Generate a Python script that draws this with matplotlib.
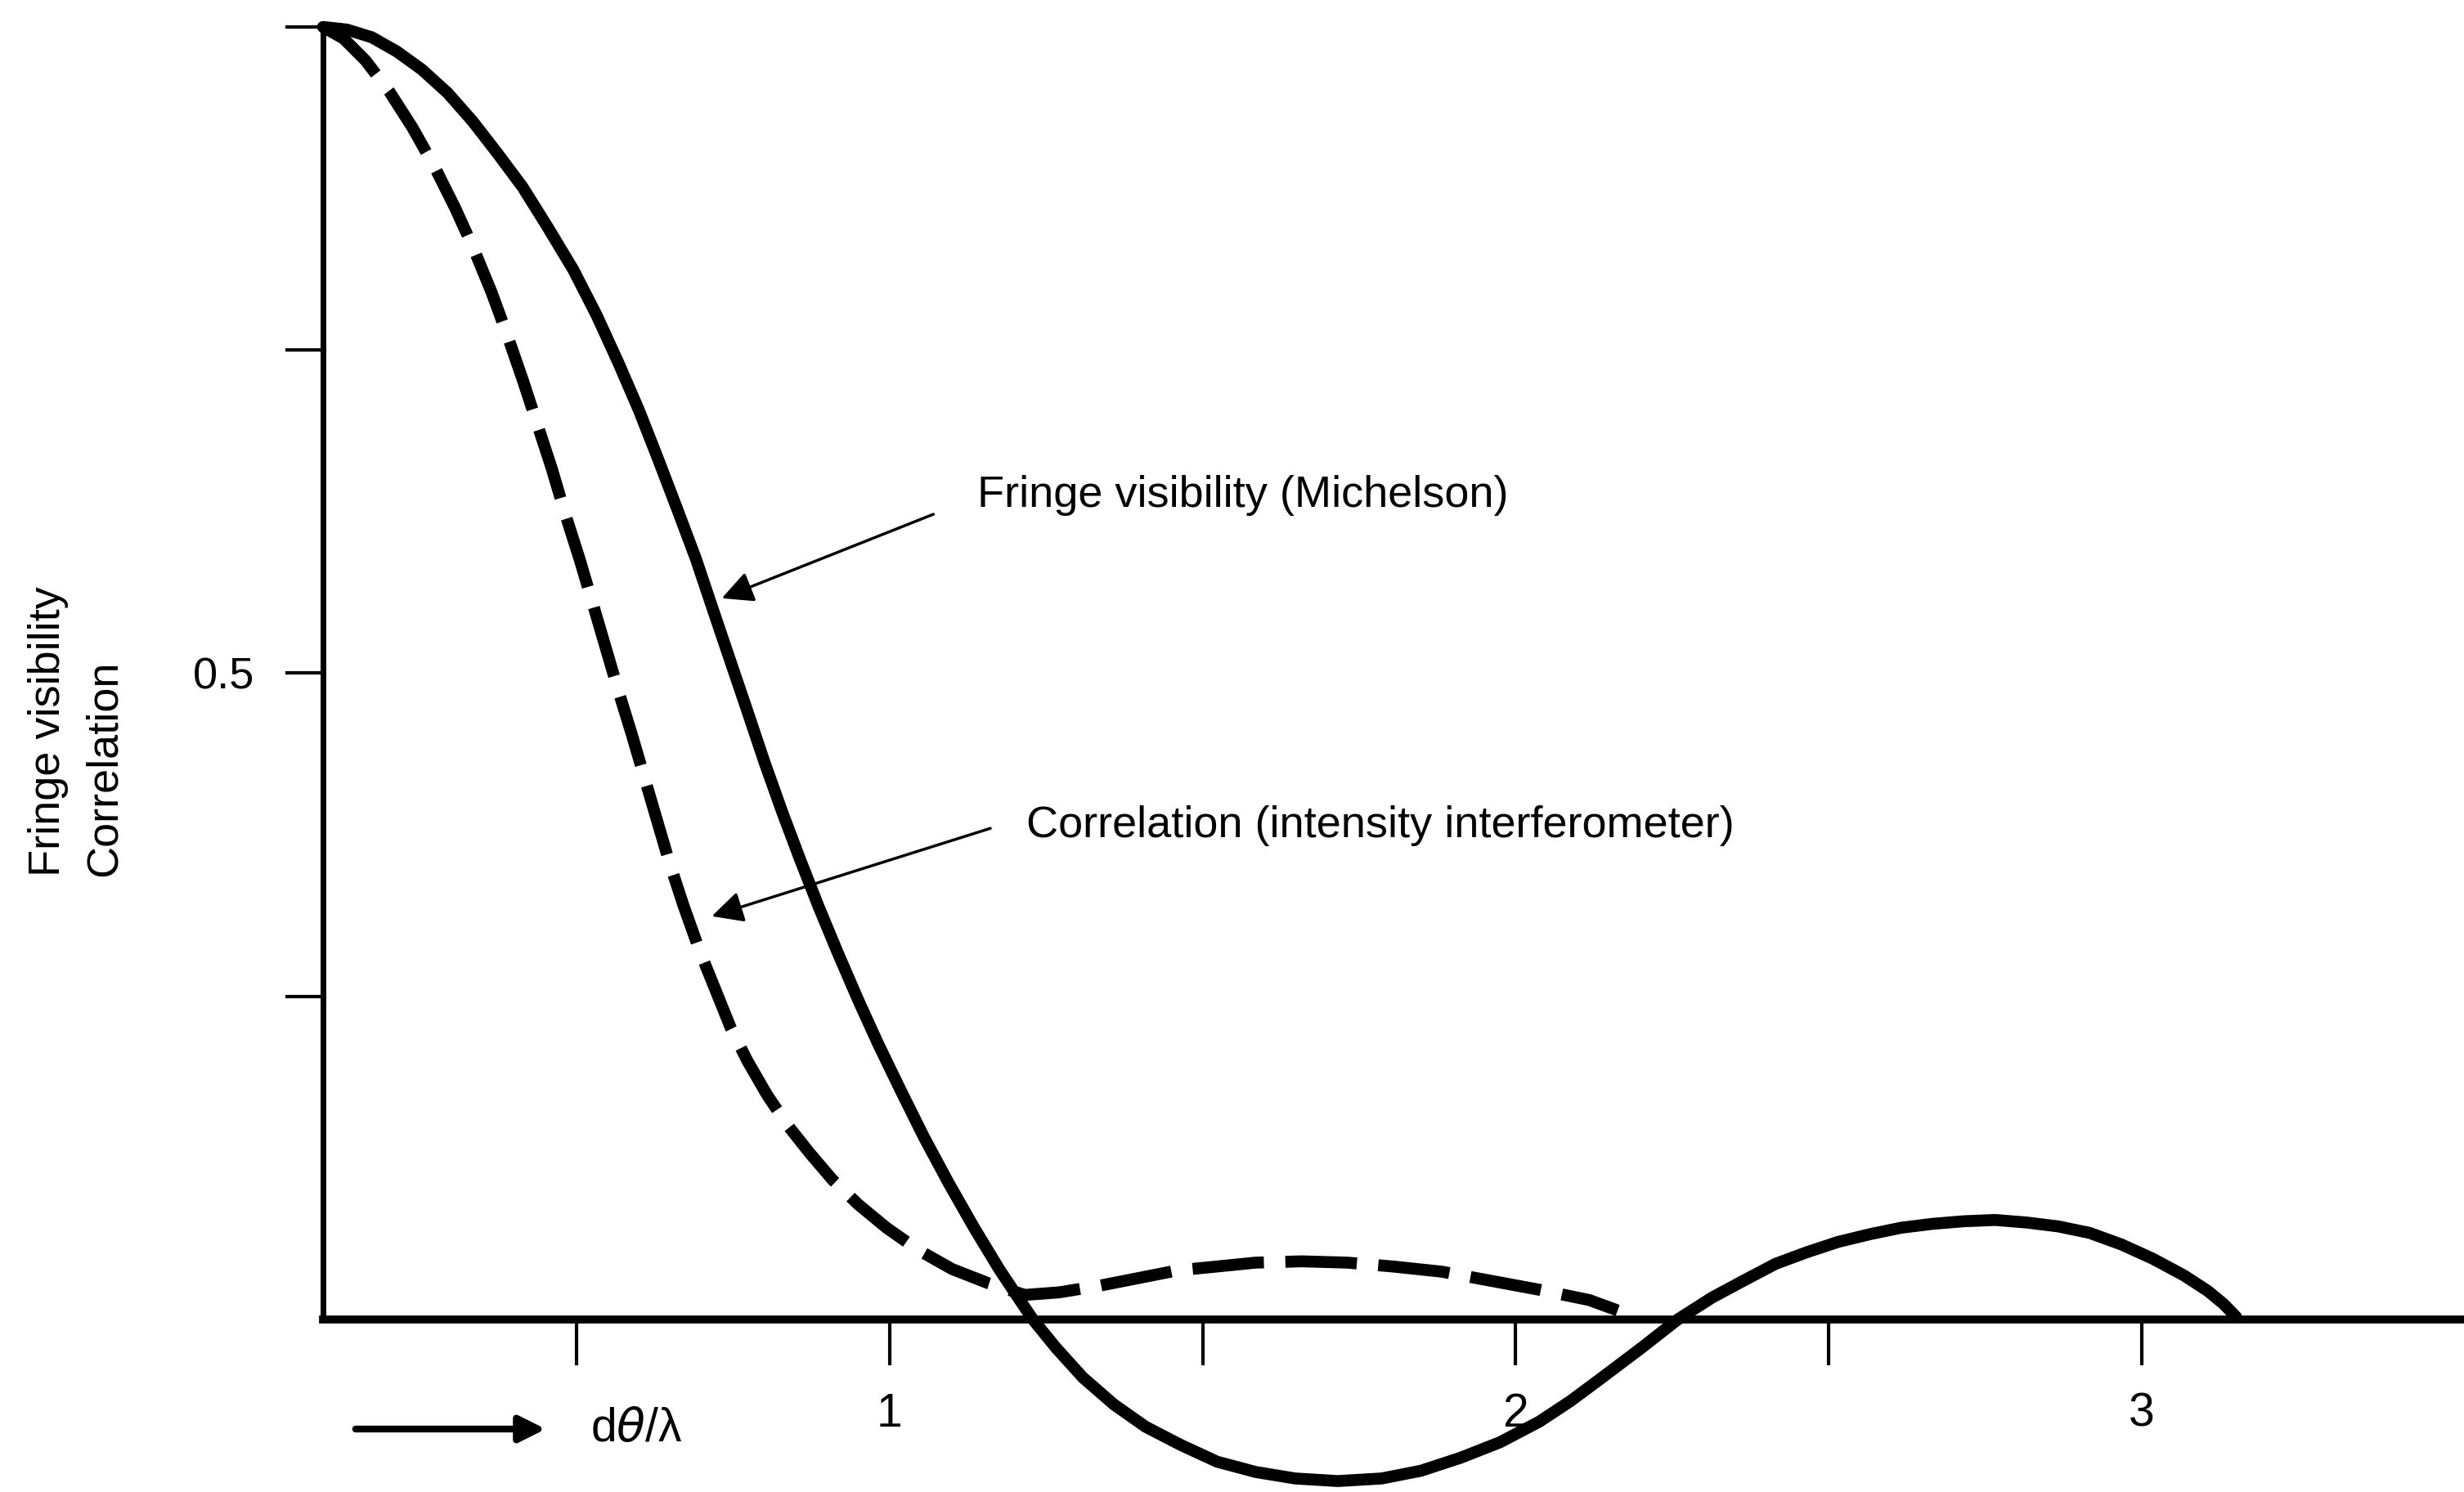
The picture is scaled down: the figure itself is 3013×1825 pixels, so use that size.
import matplotlib
matplotlib.use("Agg")
import matplotlib.pyplot as plt
from matplotlib.patches import FancyArrowPatch

plt.rcParams["font.family"] = ["Liberation Sans", "DejaVu Sans"]

# values (x in units of d*theta/lambda)
VIS_X = [0.095, 0.133, 0.173, 0.213, 0.253, 0.294, 0.334, 0.374, 0.414, 0.454,
         0.495, 0.532, 0.567, 0.600, 0.630, 0.660, 0.691, 0.718, 0.746, 0.774,
         0.801, 0.829, 0.857, 0.887, 0.917, 0.950, 0.982, 1.017, 1.055, 1.095,
         1.135, 1.175, 1.208, 1.229, 1.266, 1.309, 1.359, 1.409, 1.465, 1.523,
         1.585, 1.648, 1.716, 1.786, 1.849, 1.912, 1.975, 2.038, 2.088, 2.138,
         2.201, 2.259, 2.314, 2.364, 2.415, 2.465, 2.515, 2.566, 2.616, 2.666,
         2.716, 2.766, 2.817, 2.867, 2.917, 2.968, 3.018, 3.068, 3.106, 3.131,
         3.151]
VIS_Y = [1.000, 0.998, 0.992, 0.981, 0.967, 0.949, 0.927, 0.902, 0.876, 0.845,
         0.812, 0.777, 0.740, 0.703, 0.666, 0.628, 0.588, 0.549, 0.509, 0.469,
         0.430, 0.392, 0.356, 0.319, 0.284, 0.247, 0.213, 0.178, 0.141, 0.105,
         0.071, 0.039, 0.015, 0.000, -0.022, -0.045, -0.066, -0.083, -0.097, -0.110,
         -0.118, -0.123, -0.125, -0.123, -0.117, -0.107, -0.095, -0.079, -0.063, -0.045,
         -0.022, 0.000, 0.017, 0.030, 0.043, 0.052, 0.060, 0.066, 0.071, 0.074,
         0.076, 0.077, 0.075, 0.072, 0.067, 0.058, 0.047, 0.034, 0.022, 0.012,
         0.002]

COR_X = [0.095, 0.128, 0.163, 0.201, 0.238, 0.274, 0.306, 0.336, 0.364, 0.389,
         0.414, 0.437, 0.460, 0.482, 0.505, 0.527, 0.547, 0.567, 0.588, 0.608,
         0.628, 0.648, 0.671, 0.696, 0.721, 0.746, 0.773, 0.804, 0.836, 0.872,
         0.909, 0.950, 0.995, 1.045, 1.100, 1.158, 1.216, 1.271, 1.334, 1.397,
         1.460, 1.523, 1.585, 1.658, 1.731, 1.804, 1.882, 1.960, 2.038, 2.118,
         2.163]
COR_Y = [1.000, 0.991, 0.974, 0.950, 0.922, 0.891, 0.860, 0.828, 0.795, 0.762,
         0.727, 0.693, 0.659, 0.623, 0.588, 0.552, 0.519, 0.486, 0.453, 0.420,
         0.387, 0.354, 0.320, 0.286, 0.256, 0.226, 0.200, 0.174, 0.151, 0.129,
         0.108, 0.089, 0.071, 0.054, 0.039, 0.028, 0.019, 0.021, 0.026, 0.032,
         0.038, 0.041, 0.044, 0.045, 0.044, 0.041, 0.037, 0.030, 0.023, 0.015,
         0.007]

X_TICKS = [0.5, 1.0, 1.5, 2.0, 2.5, 3.0]
X_TICK_LABELS = ["", "1", "", "2", "", "3"]
Y_TICKS = [0.25, 0.5, 0.75, 1.0]
Y_TICK_LABELS = ["", "0.5", "", ""]

FS = 39

fig = plt.figure(figsize=(30.13, 18.25), dpi=100)
ax = fig.add_axes([0.1311, 0.0030, 0.8689, 0.97892])
ax.set_xlim(0.095, 3.515)
ax.set_ylim(-0.13, 1.0)

ax.plot(VIS_X, VIS_Y, color="black", lw=10.5, solid_capstyle="round",
        solid_joinstyle="round", clip_on=False)
cor, = ax.plot(COR_X, COR_Y, color="black", lw=10.5, clip_on=False)
cor.set_dashes([6.0, 1.8])

for s in ["top", "right"]:
    ax.spines[s].set_visible(False)
ax.spines["bottom"].set_position(("data", 0))
ax.spines["left"].set_bounds(0, 1)
ax.spines["left"].set_linewidth(5)
ax.spines["bottom"].set_linewidth(7)

ax.set_xticks(X_TICKS)
ax.set_xticklabels(X_TICK_LABELS)
ax.set_yticks(Y_TICKS)
ax.set_yticklabels(Y_TICK_LABELS)
ax.tick_params(axis="x", direction="out", length=40, width=3, pad=24, labelsize=FS + 2)
ax.tick_params(axis="y", direction="out", length=33, width=3, pad=27, labelsize=FS)

arrow = dict(arrowstyle="-|>", color="black", lw=2.5, mutation_scale=58,
             shrinkA=0, shrinkB=0)
ax.annotate("", xy=(0.732, 0.558), xytext=(1.070, 0.623), arrowprops=arrow)
ax.text(1.140, 0.629, "Fringe visibility (Michelson)", fontsize=FS, va="baseline", ha="left")
ax.annotate("", xy=(0.716, 0.312), xytext=(1.161, 0.380), arrowprops=arrow)
ax.text(1.219, 0.373, "Correlation (intensity interferometer)", fontsize=FS,
        va="baseline", ha="left")

fig.text(0.031, 0.4126, "Fringe visibility\nCorrelation", rotation=90,
         ha="center", va="bottom", fontsize=FS, linespacing=1.5, multialignment="left")

fig.patches.append(FancyArrowPatch(
    (0.1434, 0.0422), (0.2224, 0.0422), transform=fig.transFigure,
    arrowstyle="-|>", mutation_scale=48, lw=6, color="black"))
fig.text(0.2396, 0.034, "d$\\theta$/λ", fontsize=FS + 2, ha="left", va="baseline")

fig.savefig("out.png", dpi=100, facecolor="white")
